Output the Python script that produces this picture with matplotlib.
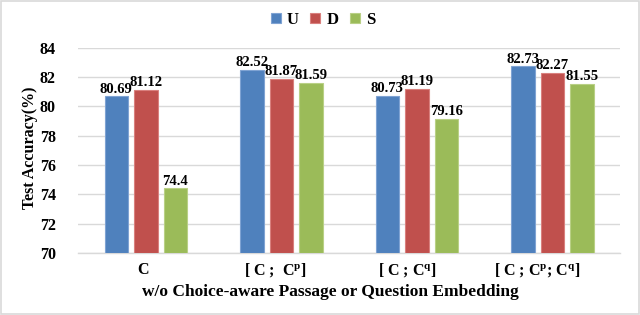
import matplotlib
matplotlib.use("Agg")
import matplotlib.pyplot as plt
import numpy as np
from matplotlib.patches import Rectangle

plt.rcParams['font.family'] = ['Liberation Serif', 'DejaVu Serif']
plt.rcParams['mathtext.fontset'] = 'custom'
plt.rcParams['mathtext.rm'] = 'Liberation Serif:bold'
plt.rcParams['mathtext.it'] = 'Liberation Serif:bold'
plt.rcParams['mathtext.bf'] = 'Liberation Serif:bold'

categories = ['C', r'[ C ;  C$^{\mathrm{p}}$]', r'[ C ; C$^{\mathrm{q}}$]', r'[ C ; C$^{\mathrm{p}}$; C$^{\mathrm{q}}$]']
series_names = ['U', 'D', 'S']
U = [80.69, 82.52, 80.73, 82.73]
D = [81.12, 81.87, 81.19, 82.27]
S = [74.4, 81.59, 79.16, 81.55]
labels_U = ['80.69', '82.52', '80.73', '82.73']
labels_D = ['81.12', '81.87', '81.19', '82.27']
labels_S = ['74.4', '81.59', '79.16', '81.55']
yticks = [70, 72, 74, 76, 78, 80, 82, 84]

colors = ['#4F81BD', '#C0504D', '#9BBB59']
edges = ['#7FA3D3', '#D9807E', '#B9D086']

fig = plt.figure(figsize=(6.4, 3.15), dpi=100)
fig.patches.append(Rectangle((0.002, 0.003), 0.996, 0.994, transform=fig.transFigure,
                             fill=False, edgecolor='#D9D9D9', linewidth=1.2))
ax = fig.add_axes([0.122, 0.197, 0.847, 0.651])

x = np.arange(len(categories))
w = 0.174
pitch = 0.218
data = [U, D, S]
lbls = [labels_U, labels_D, labels_S]
for i, (vals, name) in enumerate(zip(data, series_names)):
    pos = x + (i - 1) * pitch
    ax.bar(pos, [v - 70 for v in vals], width=w, bottom=70, color=colors[i],
           edgecolor=edges[i], linewidth=0.8, label=name, zorder=3)
    for p, v, t in zip(pos, vals, lbls[i]):
        ax.text(p, v + 0.05, t, ha='center', va='bottom', fontsize=10.5,
                fontweight='bold', zorder=4)

ax.set_ylim(70, 84)
ax.set_xlim(-0.5, 3.5)
ax.set_yticks(yticks)
ax.set_yticklabels([str(t) for t in yticks], fontsize=11.5, fontweight='bold')
ax.set_xticks(x)
ax.set_xticklabels([])
shifts_px = [-3, -6, -10, -15]
for xi, cat, dx in zip(x, categories, shifts_px):
    ax.annotate(cat, xy=(xi, 0), xycoords=ax.get_xaxis_transform(),
                xytext=(dx * 0.72, -17 * 0.72), textcoords='offset points',
                ha='center', va='center', fontsize=11.5, fontweight='bold',
                annotation_clip=False)
ax.tick_params(axis='x', length=0)
ax.tick_params(axis='y', length=0, pad=16)
ax.yaxis.grid(True, color='#D9D9D9', linewidth=1.0, zorder=0)
for s in ['top', 'right', 'left']:
    ax.spines[s].set_visible(False)
ax.spines['bottom'].set_color('#D9D9D9')
ax.spines['bottom'].set_linewidth(1.0)

ax.set_ylabel('Test Accuracy(%)', fontsize=11.5, fontweight='bold', va='center')
ax.yaxis.set_label_coords((30 - 78) / 542, (253 - 148) / 205)
ax.set_xlabel('w/o Choice-aware Passage or Question Embedding', fontsize=12.5,
              fontweight='bold')
ax.xaxis.set_label_coords((330 - 78) / 542, -(292 - 253) / 205)
ax.xaxis.label.set_va('center')

leg = fig.legend(loc='center', bbox_to_anchor=(323 / 640, 1 - 20 / 315), ncol=3,
                 frameon=False, handlelength=0.6, handleheight=0.6, handletextpad=0.35,
                 columnspacing=0.7, prop={'weight': 'bold', 'size': 12})

fig.savefig('out.png', dpi=100)
